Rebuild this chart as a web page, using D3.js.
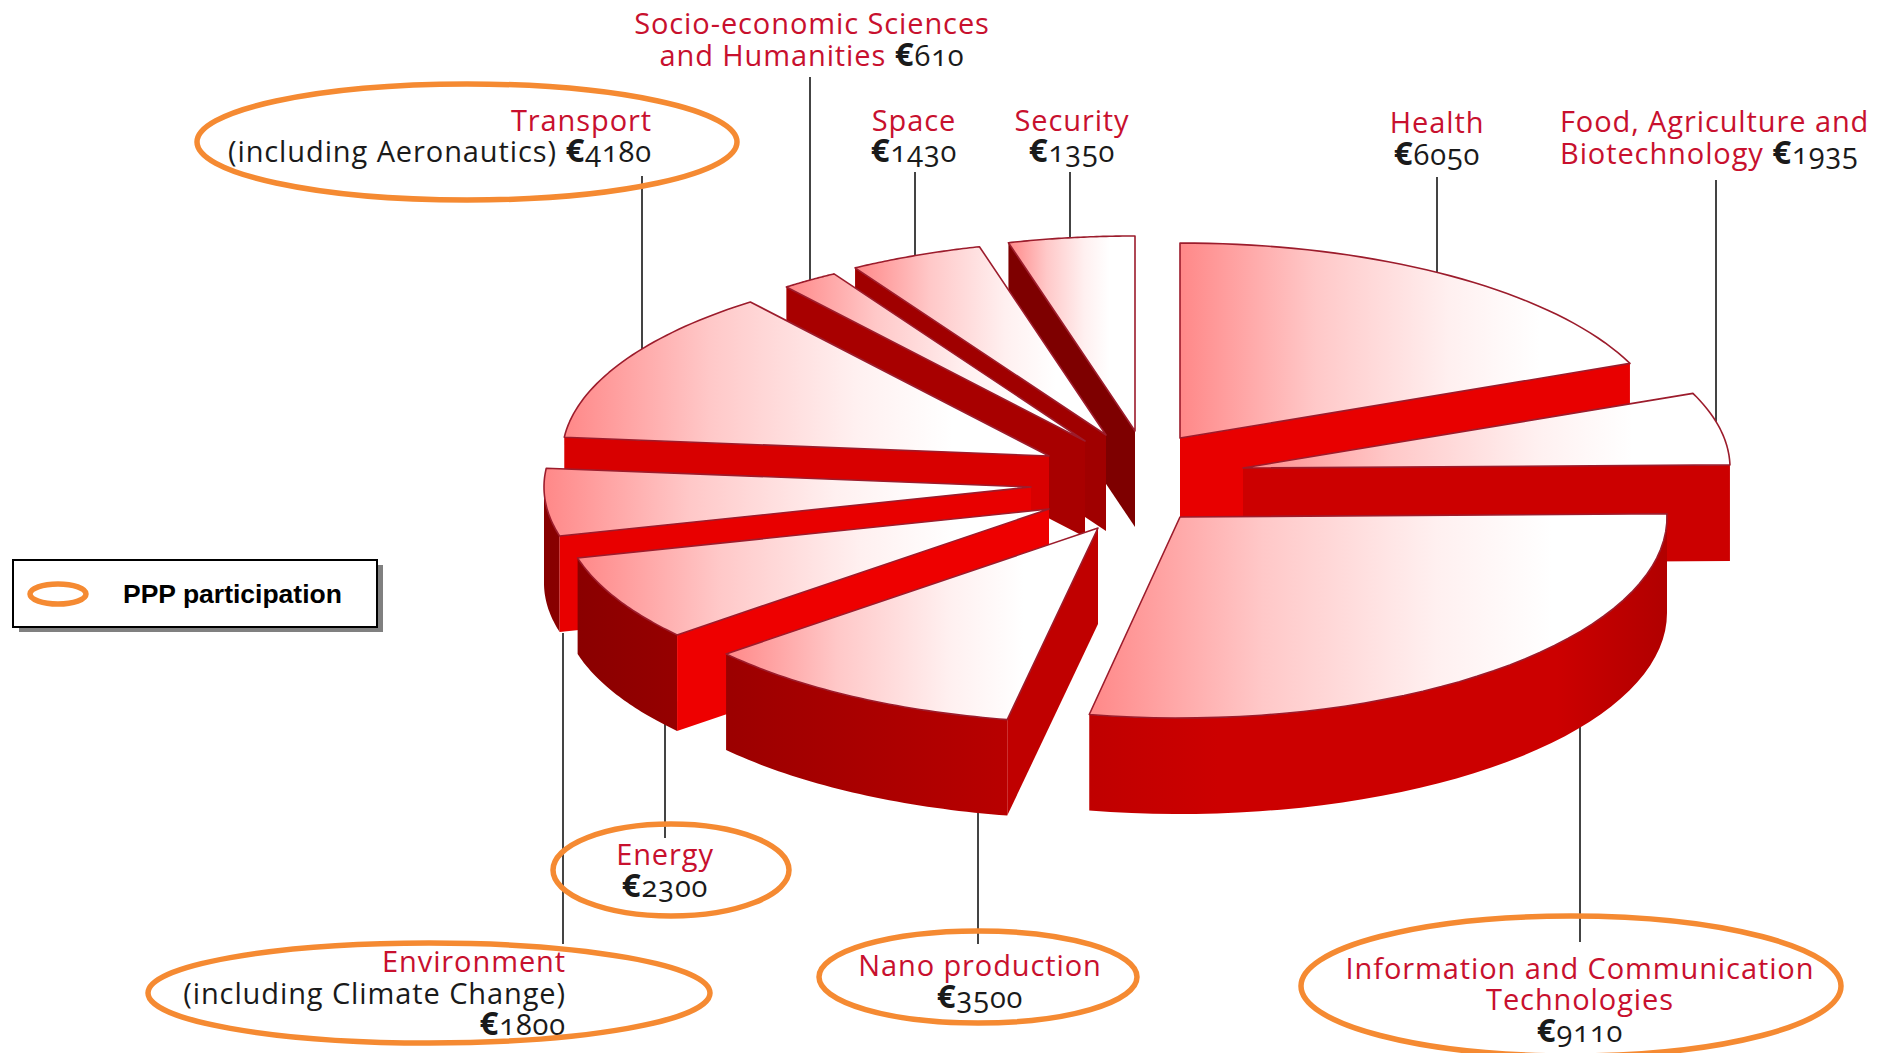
<!DOCTYPE html>
<html>
<head>
<meta charset="utf-8">
<script src="https://cdn.jsdelivr.net/npm/d3@7"></script>
<style>
  html, body { margin: 0; padding: 0; background: #fff; overflow: hidden; }
  text { font-family: "Open Sans", sans-serif; font-variant-numeric: oldstyle-nums; font-feature-settings: "onum"; }
</style>
</head>
<body>
<div id="pie"></div>
<script>
const categories = ["Health", "Food, Agriculture and Biotechnology", "Information and Communication Technologies",
    "Nano production", "Energy", "Environment (including Climate Change)", "Transport (including Aeronautics)",
    "Socio-economic Sciences and Humanities", "Space", "Security"];
const values = [6050, 1935, 9110, 3500, 2300, 1800, 4180, 610, 1430, 1350];
const ppp = [false, false, true, true, true, true, true, false, false, false];

const width = 1886, height = 1053;
const rx = 487, depth = 96;
// the front slice comes out a little deeper in the original
const radiusY = [195, 195, 201, 195, 195, 195, 195, 195, 195, 195];

// where each exploded slice has its tip
const tipX = [1180, 1243, 1180, 1098, 1049, 1031, 1049, 1085, 1106, 1135];
const tipY = [438, 468, 517, 528, 509, 487, 456, 441, 435, 431];
const wallColors = ["#e80000", "#cc0000", "#cc0000", "#c00000", "#ee0000", "#e80000", "#d80000", "#a80000", "#a00000", "#7e0000"];
const drawOrder = [9, 8, 7, 6, 5, 4, 3, 0, 1, 2];

// red part | black part of each label row
const labelRows = [
    ["Health|", "|€6050"],
    ["Food, Agriculture and|", "Biotechnology|€1935"],
    ["Information and Communication|", "Technologies|", "|€9110"],
    ["Nano production|", "|€3500"],
    ["Energy|", "|€2300"],
    ["Environment|", "|(including Climate Change)", "|€1800"],
    ["Transport|", "|(including Aeronautics) €4180"],
    ["Socio-economic Sciences|", "and Humanities|€610"],
    ["Space|", "|€1430"],
    ["Security|", "|€1350"]
];
const labelPos = [
    { x: 1437, anchor: "middle", y: [133, 165] },
    { x: 1560, anchor: "start", y: [132, 164] },
    { x: 1580, anchor: "middle", y: [979, 1010, 1042] },
    { x: 980, anchor: "middle", y: [976, 1008] },
    { x: 665, anchor: "middle", y: [865, 897] },
    { x: 566, anchor: "end", y: [972, 1004, 1035] },
    { x: 652, anchor: "end", y: [131, 162] },
    { x: 812, anchor: "middle", y: [34, 66] },
    { x: 914, anchor: "middle", y: [131, 162] },
    { x: 1072, anchor: "middle", y: [131, 162] }
];

// leader lines: x on the rim, far end y next to the label
const leaderX = [1437, 1716, 1580, 978, 665, 563, 642, 810, 915, 1070];
const leaderEnd = [177, 180, 942, 944, 838, 944, 176, 77, 172, 172];

// ppp rings around the labels
const rings = [
    { i: 2, cx: 1571, cy: 986, rx: 270, ry: 70 },
    { i: 3, cx: 978, cy: 977, rx: 159, ry: 46 },
    { i: 4, cx: 671, cy: 870, rx: 118, ry: 46 },
    { i: 5, cx: 429, cy: 993, rx: 281, ry: 50 },
    { i: 6, cx: 467, cy: 142, rx: 270, ry: 58 }
];

const svg = d3.select("#pie").append("svg")
    .attr("width", width)
    .attr("height", height)
    .style("display", "block");

const defs = svg.append("defs");

const faceGrad = defs.append("linearGradient").attr("id", "face");
faceGrad.selectAll("stop")
    .data([[0, "#ff8888"], [0.3, "#ffc8c8"], [0.6, "#fff0f0"], [0.8, "#ffffff"], [1, "#ffffff"]])
    .join("stop")
    .attr("offset", d => d[0])
    .attr("stop-color", d => d[1]);

const rimGrad = defs.append("linearGradient").attr("id", "rim")
    .attr("gradientUnits", "userSpaceOnUse")
    .attr("x1", 540).attr("x2", 1670).attr("y1", 0).attr("y2", 0);
rimGrad.selectAll("stop")
    .data([[0, "#860000"], [0.2, "#a00000"], [0.45, "#bc0000"], [0.6, "#cc0000"], [0.9, "#cc0000"], [1, "#b00000"]])
    .join("stop")
    .attr("offset", d => d[0])
    .attr("stop-color", d => d[1]);

const arcs = d3.pie().sort(null).value(d => d)(values);

const xUnit = d3.scaleLinear().domain([-1, 1]).range([-rx, rx]);

const rimPoint = (i, t, drop) => [tipX[i] + xUnit(Math.sin(t)), tipY[i] - radiusY[i] * Math.cos(t) + (drop || 0)];
const tipPoint = (i, drop) => [tipX[i], tipY[i] + (drop || 0)];
const arcAngles = (a, b) => d3.range(0, 41).map(k => a + (b - a) * k / 40);
const line = d3.line();

// leaders go behind the pie
svg.append("g")
    .selectAll("line")
    .data(arcs)
    .join("line")
    .attr("x1", (d, i) => leaderX[i])
    .attr("x2", (d, i) => leaderX[i])
    .attr("y1", (d, i) => leaderEnd[i])
    .attr("y2", (d, i) => {
        const u = (leaderX[i] - tipX[i]) / rx;
        const h = radiusY[i] * Math.sqrt(Math.max(0, 1 - u * u));
        return leaderEnd[i] < tipY[i] ? tipY[i] - h + 4 : tipY[i] + h + depth - 4;
    })
    .attr("stroke", "#444")
    .attr("stroke-width", 2);

const slices = svg.append("g")
    .selectAll("g")
    .data(drawOrder)
    .join("g");

slices.each(function (i) {
    const g = d3.select(this);
    const a = arcs[i].startAngle, b = arcs[i].endAngle;

    // outer wall, only the part that faces the viewer
    const a1 = Math.max(a, Math.PI / 2), b1 = Math.min(b, Math.PI * 1.5);
    if (b1 > a1) {
        const top = arcAngles(a1, b1).map(t => rimPoint(i, t));
        const bottom = arcAngles(a1, b1).reverse().map(t => rimPoint(i, t, depth));
        g.append("path").attr("d", line(top.concat(bottom)) + "Z").attr("fill", "url(#rim)");
    }

    // cut wall: the start edge shows on the left half, the end edge on the right half
    const edge = Math.sin(a) < -1e-6 ? a : (Math.sin(b) > 1e-6 ? b : null);
    if (edge !== null) {
        const wall = [tipPoint(i), rimPoint(i, edge), rimPoint(i, edge, depth), tipPoint(i, depth)];
        g.append("path").attr("d", line(wall) + "Z").attr("fill", wallColors[i]);
    }

    // top face
    const face = [tipPoint(i)].concat(arcAngles(a, b).map(t => rimPoint(i, t)));
    g.append("path")
        .attr("d", line(face) + "Z")
        .attr("fill", "url(#face)")
        .attr("stroke", "#9c1c2c")
        .attr("stroke-width", 1.6)
        .attr("stroke-linejoin", "round");
});

// labels
const labels = svg.append("g")
    .attr("font-size", 29)
    .attr("letter-spacing", 0.9)
    .selectAll("text")
    .data(labelRows.flatMap((rows, i) => rows.map((r, k) => ({ row: r.split("|"), x: labelPos[i].x, y: labelPos[i].y[k], anchor: labelPos[i].anchor }))))
    .join("text")
    .attr("x", d => d.x)
    .attr("y", d => d.y)
    .attr("text-anchor", d => d.anchor);

labels.append("tspan")
    .attr("fill", "#c8102e")
    .text(d => d.row[0] + (d.row[0] && d.row[1] ? " " : ""));
labels.append("tspan")
    .attr("fill", "#1a1a1a")
    .text(d => d.row[1].split("€")[0]);
labels.filter(d => d.row[1].includes("€")).append("tspan")
    .attr("fill", "#1a1a1a")
    .attr("font-weight", 700)
    .attr("font-size", 33)
    .text("€");
labels.filter(d => d.row[1].includes("€")).append("tspan")
    .attr("fill", "#1a1a1a")
    .text(d => d.row[1].split("€")[1]);

// orange rings
svg.append("g")
    .selectAll("ellipse")
    .data(rings.filter(d => ppp[d.i]))
    .join("ellipse")
    .attr("cx", d => d.cx)
    .attr("cy", d => d.cy)
    .attr("rx", d => d.rx)
    .attr("ry", d => d.ry)
    .attr("fill", "none")
    .attr("stroke", "#f58a32")
    .attr("stroke-width", 5.5);

// legend
const legend = svg.append("g");
legend.append("rect").attr("x", 19).attr("y", 565).attr("width", 364).attr("height", 67).attr("fill", "#808080");
legend.append("rect").attr("x", 13).attr("y", 560).attr("width", 364).attr("height", 67)
    .attr("fill", "#fff").attr("stroke", "#000").attr("stroke-width", 2);
legend.append("ellipse").attr("cx", 58).attr("cy", 594).attr("rx", 28).attr("ry", 10)
    .attr("fill", "none").attr("stroke", "#f58a32").attr("stroke-width", 5.5);
legend.append("text")
    .attr("x", 123).attr("y", 603)
    .style("font-family", "'Liberation Sans', Arial, sans-serif")
    .attr("font-size", 26.5)
    .attr("font-weight", 700)
    .attr("fill", "#000")
    .text("PPP participation");
</script>
</body>
</html>
